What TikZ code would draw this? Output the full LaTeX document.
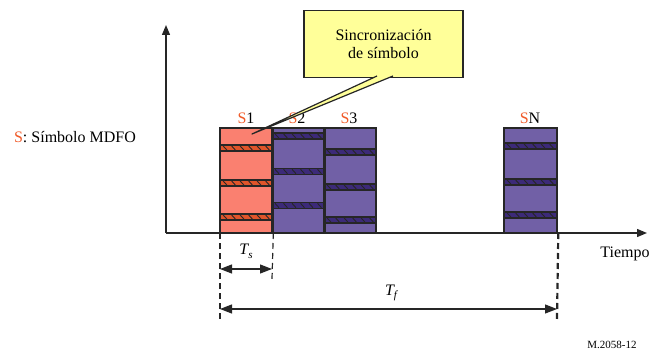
\documentclass[tikz,border=0pt]{standalone}
\usepackage{fontspec}
\setmainfont{Liberation Serif}
\usetikzlibrary{arrows.meta,calc}
\definecolor{salmon}{HTML}{FA8070}
\definecolor{sband}{HTML}{E0552A}
\definecolor{purp}{HTML}{7160A6}
\definecolor{pband}{HTML}{3C2A78}
\definecolor{sred}{HTML}{F05A28}
\definecolor{callo}{HTML}{FFFF99}
\definecolor{ink}{HTML}{262626}
\newcommand{\myband}[4]{%
  \fill[#4] (#1,#3-3) rectangle (#2,#3+3);
  \draw[ink,line width=1.3pt] (#1,#3-3) -- (#2,#3-3);
  \draw[ink,line width=1.3pt] (#1,#3+3) -- (#2,#3+3);
  \foreach \i in {0,...,5}{\draw[ink,line width=0.9pt] ({#1+3+\i*8.5},#3-2.2) -- ++(4,4.4);}
}
\begin{document}
\begin{tikzpicture}[x=1pt,y=-1pt,
  font=\fontsize{16}{18}\selectfont,
  blk/.style={draw=ink,line width=1.3pt,minimum width=52pt,minimum height=104pt,inner sep=0pt,anchor=south west},
  axis/.style={draw=ink,line width=1.3pt,-{Triangle[length=10pt,width=8pt]}},
  dimline/.style={draw=ink,line width=1.2pt,dash pattern=on 6pt off 4pt},
  dimarrow/.style={draw=ink,line width=1.2pt,{Triangle[length=12pt,width=9pt]}-{Triangle[length=12pt,width=9pt]}},
  lbl/.style={inner sep=1pt}]
\useasboundingbox (0,0) rectangle (651,353);
% blocks
\node[blk,fill=salmon] (s1) at (220,233) {};
\node[blk,fill=purp] (s2) at (272,233) {};
\node[blk,fill=purp,minimum width=51pt] (s3) at (324,233) {};
\node[blk,fill=purp] (sn) at (504,233) {};
% bands
\myband{220}{272}{148}{sband}
\myband{220}{272}{183}{sband}
\myband{220}{272}{217}{sband}
\myband{272}{324}{136}{pband}
\myband{272}{324}{171.5}{pband}
\myband{272}{324}{205.5}{pband}
\myband{324}{375}{152}{pband}
\myband{324}{375}{187}{pband}
\myband{324}{375}{220}{pband}
\myband{504}{556}{146}{pband}
\myband{504}{556}{182}{pband}
\myband{504}{556}{215}{pband}
\draw[ink,line width=1.3pt] (s1.south west) rectangle (s1.north east);
\draw[ink,line width=1.3pt] (s2.south west) rectangle (s2.north east);
\draw[ink,line width=1.3pt] (s3.south west) rectangle (s3.north east);
\draw[ink,line width=1.3pt] (sn.south west) rectangle (sn.north east);
% axes
\coordinate (o) at (166,233);
\coordinate (ytip) at (166,25);
\coordinate (xtip) at (647,233);
\draw[axis] (o) -- (ytip);
\draw[axis] (o) -- (xtip);
% labels
\node[lbl] (l1) at (246,118) {\textcolor{sred}{S}1};
\node[lbl] (l2) at (297,118) {\textcolor{sred}{S}2};
\node[lbl] (l3) at (349,118) {\textcolor{sred}{S}3};
\node[lbl] (ln) at (530,118) {\textcolor{sred}{S}N};
\node[lbl] (legend) at (75,137) {\textcolor{sred}{S}: Símbolo MDFO};
% callout
\node[draw=ink,fill=callo,line width=1.3pt,minimum width=159pt,minimum height=67pt,inner sep=0pt,align=center] (co) at (383.5,44) {Sincronización\\de símbolo};
\coordinate (tip) at (252,134);
\coordinate (pa) at (377,76);
\coordinate (pb) at (393,76);
\fill[callo] (pa) -- (tip) -- (pb) -- cycle;
\draw[ink,line width=1.2pt,line join=round] (pa) -- (tip) -- (pb);
% dimension lines
\coordinate (d1) at (220,320);
\coordinate (d2) at (272,279);
\coordinate (d3) at (557,319);
\draw[dimline] (s1.south west) -- (d1);
\draw[dimline] (s1.south east) -- (d2);
\draw[dimline,line width=2.2pt] ($(sn.south east)+(1,0)$) -- (d3);
\coordinate (ta) at (220,269);
\coordinate (tb) at (272,269);
\coordinate (fa) at (220,309);
\coordinate (fb) at (557,309);
\draw[dimarrow] (ta) -- (tb);
\draw[dimarrow] (fa) -- (fb);
\node[lbl] (tsl) at (246,251) {\itshape T\raisebox{-0.5ex}{\fontsize{11}{12}\selectfont s}};
\node[lbl] (tfl) at (391,293) {\itshape T\raisebox{-0.5ex}{\fontsize{11}{12}\selectfont f}};
\node[lbl] (tiempo) at (625,254) {Tiempo};
\node[lbl] (ref) at (612,345) {\fontsize{11}{12}\selectfont M.2058-12};
\end{tikzpicture}
\end{document}
